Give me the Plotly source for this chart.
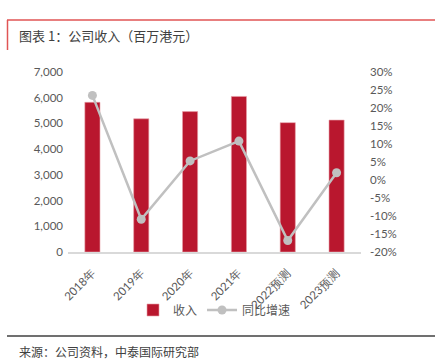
import plotly.graph_objects as go

categories = ["2018年", "2019年", "2020年", "2021年", "2022预测", "2023预测"]
revenue = [5820, 5180, 5460, 6050, 5030, 5130]
growth = [23.5, -10.9, 5.3, 10.8, -16.8, 2.0]
left_ticks = [0, 1000, 2000, 3000, 4000, 5000, 6000, 7000]
right_ticks = [-20, -15, -10, -5, 0, 5, 10, 15, 20, 25, 30]

W, H = 435, 361
L, R, T, B = 68, 361, 72, 252

def px(x):
    return (x - L) / (R - L)

def py(y):
    return (B - y) / (B - T)

fig = go.Figure()
fig.add_trace(go.Bar(
    x=categories, y=revenue, name="收入",
    marker=dict(color="#B9172E", line=dict(color="#E8A0A8", width=0.6)),
    width=0.31, yaxis="y",
))
fig.add_trace(go.Scatter(
    x=categories, y=growth, name="同比增速", mode="lines+markers",
    line=dict(color="#C0C0C0", width=2.5),
    marker=dict(color="#C0C0C0", size=9),
    yaxis="y2",
))

tickfont = dict(family="Lato, Liberation Sans, sans-serif", size=11.5, color="#595959")

fig.update_layout(
    width=W, height=H,
    margin=dict(l=L, r=W - R, t=T, b=H - B),
    paper_bgcolor="white", plot_bgcolor="white",
    showlegend=True,
    xaxis=dict(
        type="category", tickangle=-45, tickfont=tickfont,
        showline=True, linecolor="#D9D9D9", linewidth=1.5,
        showgrid=False, ticks="", ticklen=0, ticklabelstandoff=8,
    ),
    yaxis=dict(
        range=[0, 7000], tickvals=left_ticks,
        ticktext=[f"{v:,}" for v in left_ticks],
        tickfont=tickfont, showgrid=False, zeroline=False, ticks="",
        ticklabelstandoff=4,
    ),
    yaxis2=dict(
        range=[-20, 30], tickvals=right_ticks,
        ticktext=[f"{v}%" for v in right_ticks],
        overlaying="y", side="right", tickfont=tickfont,
        showgrid=False, zeroline=False, ticks="", ticklabelstandoff=8,
    ),
    legend=dict(
        orientation="h", x=0.5, xanchor="center", y=py(310), yanchor="middle",
        font=dict(family="Noto Sans CJK SC, sans-serif", size=12, color="#595959"),
        itemwidth=30, traceorder="normal", bgcolor="rgba(0,0,0,0)",
    ),
    shapes=[
        dict(type="line", xref="paper", yref="paper",
             x0=px(7), x1=px(435), y0=py(20), y1=py(20),
             line=dict(color="#E05555", width=1.5)),
        dict(type="line", xref="paper", yref="paper",
             x0=px(7.5), x1=px(7.5), y0=py(20), y1=py(50),
             line=dict(color="#E05555", width=1.5)),
        dict(type="line", xref="paper", yref="paper",
             x0=px(7), x1=px(435), y0=py(336), y1=py(336),
             line=dict(color="#404040", width=1.5)),
    ],
    annotations=[
        dict(text="图表 1：公司收入（百万港元）", xref="paper", yref="paper",
             x=px(17), y=py(35), xanchor="left", yanchor="middle", showarrow=False,
             font=dict(family="Noto Sans CJK SC, sans-serif", size=13, color="#404040")),
        dict(text="来源：公司资料，中泰国际研究部", xref="paper", yref="paper",
             x=px(17), y=py(351), xanchor="left", yanchor="middle", showarrow=False,
             font=dict(family="Noto Sans CJK SC, sans-serif", size=12, color="#404040")),
    ],
)

fig.write_html(
    "out.html",
    config={"displayModeBar": False},
    post_script="document.body.style.margin='0';document.body.style.padding='0';",
)
